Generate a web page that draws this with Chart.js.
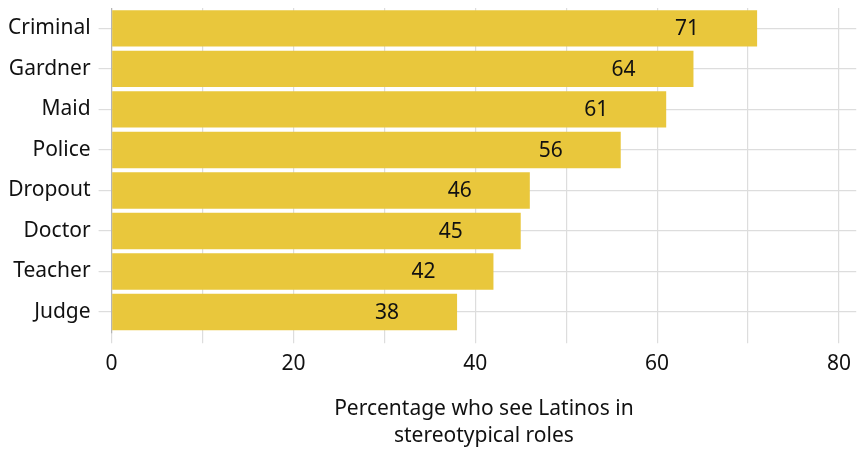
<!DOCTYPE html>
<html>
<head>
<meta charset="utf-8">
<script src="https://cdn.jsdelivr.net/npm/chart.js@4/dist/chart.umd.min.js"></script>
<style>
    html, body { margin: 0; padding: 0; background: #fff; }
    #wrap { width: 859px; height: 450px; position: relative; }
</style>
</head>
<body>
<div id="wrap"><canvas id="chart"></canvas></div>
<script>
// Stereotypical roles — horizontal bar chart

const roles = ['Criminal', 'Gardner', 'Maid', 'Police', 'Dropout', 'Doctor', 'Teacher', 'Judge'];
const percents = [71, 64, 61, 56, 46, 45, 42, 38];
const xTicks = [0, 10, 20, 30, 40, 50, 60, 70, 80];
const xLabelled = [0, 20, 40, 60, 80];

const FONT = "'Noto Sans', sans-serif";
const barColor = '#E9C73C';
const gridColor = '#dddddd';

// Value labels sit inside each bar, a little left of its end
const valueLabels = {
    id: 'valueLabels',
    afterDatasetsDraw(chart) {
        const ctx = chart.ctx;
        const meta = chart.getDatasetMeta(0);
        ctx.save();
        ctx.font = '21px ' + FONT;
        ctx.fillStyle = '#111';
        ctx.textAlign = 'center';
        ctx.textBaseline = 'middle';
        meta.data.forEach((bar, i) => {
            ctx.fillText(String(percents[i]), bar.x - 70, bar.y + 1);
        });
        ctx.restore();
    }
};

new Chart(document.getElementById('chart'), {
    type: 'bar',
    data: {
        labels: roles,
        datasets: [{
            data: percents,
            backgroundColor: barColor,
            barPercentage: 0.9,
            categoryPercentage: 1.0
        }]
    },
    options: {
        indexAxis: 'y',
        responsive: true,
        maintainAspectRatio: false,
        animation: false,
        layout: { padding: { top: 4, right: 2, left: 0, bottom: 0 } },
        plugins: {
            legend: { display: false },
            tooltip: { enabled: false }
        },
        scales: {
            x: {
                min: 0,
                max: 81.9,
                afterBuildTicks: axis => { axis.ticks = xTicks.map(v => ({ value: v })); },
                ticks: {
                    color: '#111',
                    font: { family: FONT, size: 21 },
                    padding: 8,
                    maxRotation: 0,
                    autoSkip: false,
                    callback: v => xLabelled.includes(v) ? String(v) : ''
                },
                grid: { color: gridColor, lineWidth: 1.2, tickLength: 11 },
                border: { display: false },
                title: {
                    display: true,
                    text: ['Percentage who see Latinos in', 'stereotypical roles'],
                    color: '#111',
                    font: { family: FONT, size: 21, lineHeight: 1.3 },
                    padding: { top: 11, bottom: 0 }
                }
            },
            y: {
                ticks: {
                    color: '#111',
                    font: { family: FONT, size: 21, lineHeight: 0.01 },
                    padding: 8
                },
                grid: { color: gridColor, lineWidth: 1.2, offset: false, tickLength: 13 },
                border: { display: true, color: '#b5b5b5', width: 1.2 }
            }
        }
    },
    plugins: [valueLabels]
});
</script>
</body>
</html>
